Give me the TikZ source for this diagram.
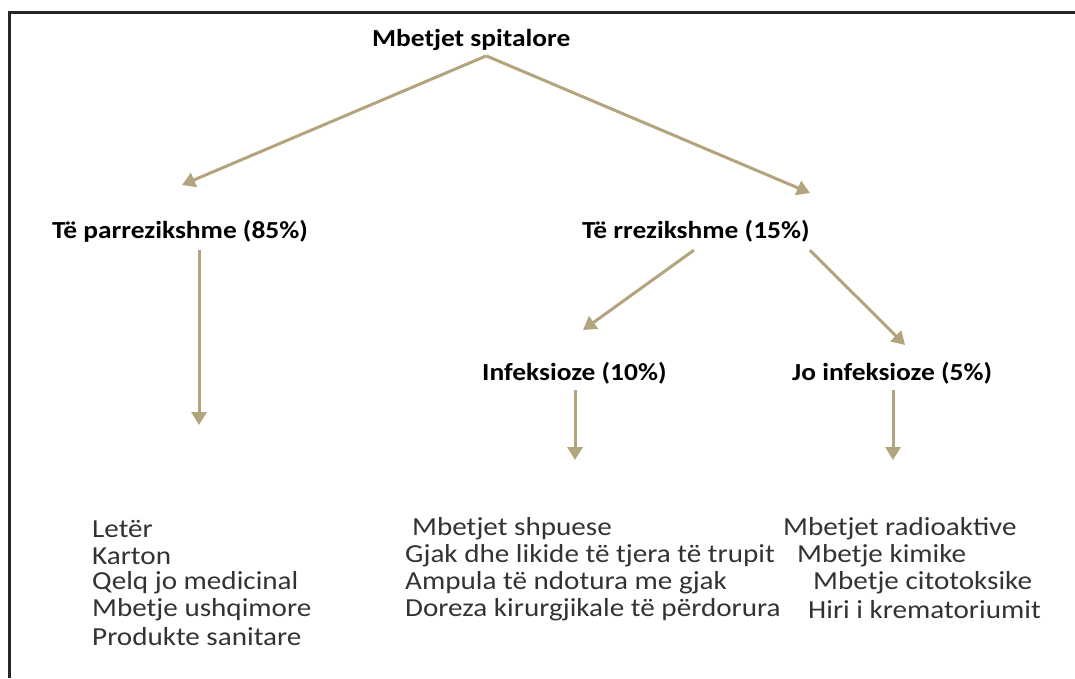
\documentclass[tikz,border=0pt]{standalone}
\usepackage{fontspec}
\setmainfont{Carlito}[FakeStretch=1.12]
\usepackage{xcolor}
\usetikzlibrary{positioning,arrows.meta}
\definecolor{khaki}{RGB}{178,165,125}

\begin{document}
\begin{tikzpicture}[
  x=1pt, y=-1pt,
  head/.style={font=\fontsize{24.5}{28}\selectfont\bfseries, anchor=west, inner sep=0pt},
  item/.style={font=\fontsize{26}{28}\selectfont, anchor=west, inner sep=0pt, text=black!80},
  arr/.style={-{Triangle[length=13pt, width=15pt]}, line width=3pt, khaki}
]
  \useasboundingbox (0,0) rectangle (1075,678);
  \draw[line width=3pt, black!85] (9,678) -- (9,12) -- (1075,12);

  % headings
  \node[head] (root) at (372,40) {Mbetjet spitalore};
  \node[head] (safe) at (52,231) {Të parrezikshme (85\%)};
  \node[head] (risk) at (582,231) {Të rrezikshme (15\%)};
  \node[head] (inf) at (482,373) {Infeksioze (10\%)};
  \node[head] (noinf) at (792,373) {Jo infeksioze (5\%)};

  % arrow tips
  \coordinate (tsafe) at (182,185);
  \coordinate (trisk) at (810,193);
  \coordinate (tlist) at (199,425);
  \coordinate (tinf) at (583,330);
  \coordinate (tnoinf) at (905,345);
  \coordinate (tinflist) at (575,460);
  \coordinate (tnoinflist) at (893,460);

  \draw[arr] ([xshift=15pt, yshift=-5pt]root.south) -- (tsafe);
  \draw[arr] ([xshift=15pt, yshift=-5pt]root.south) -- (trisk);
  \draw[arr] ([yshift=-8pt]tlist |- safe.south) -- (tlist);
  \draw[arr] ([xshift=-2pt, yshift=-8pt]risk.south) -- (tinf);
  \draw[arr] ([xshift=0pt, yshift=-8pt]risk.south east) -- (tnoinf);
  \draw[arr] ([yshift=-6pt]tinflist |- inf.south) -- (tinflist);
  \draw[arr] ([yshift=-6pt]tnoinflist |- noinf.south) -- (tnoinflist);

  % non-hazardous
  \node[item] (a1) at (92,529) {Letër};
  \node[item] (a2) at (92,556) {Karton};
  \node[item] (a3) at (92,583) {Qelq jo medicinal};
  \node[item] (a4) at (92,610) {Mbetje ushqimore};
  \node[item] (a5) at (92,637) {Produkte sanitare};

  % infectious
  \node[item] (b1) at (412,529) {Mbetjet shpuese};
  \node[item] (b2) at (405,556) {Gjak dhe likide të tjera të trupit};
  \node[item] (b3) at (405,583) {Ampula të ndotura me gjak};
  \node[item] (b4) at (405,610) {Doreza kirurgjikale të përdorura};

  % non-infectious
  \node[item] (c1) at (783,529) {Mbetjet radioaktive};
  \node[item] (c2) at (797,556) {Mbetje kimike};
  \node[item] (c3) at (813,583) {Mbetje citotoksike};
  \node[item] (c4) at (808,610) {Hiri i krematoriumit};
\end{tikzpicture}
\end{document}
